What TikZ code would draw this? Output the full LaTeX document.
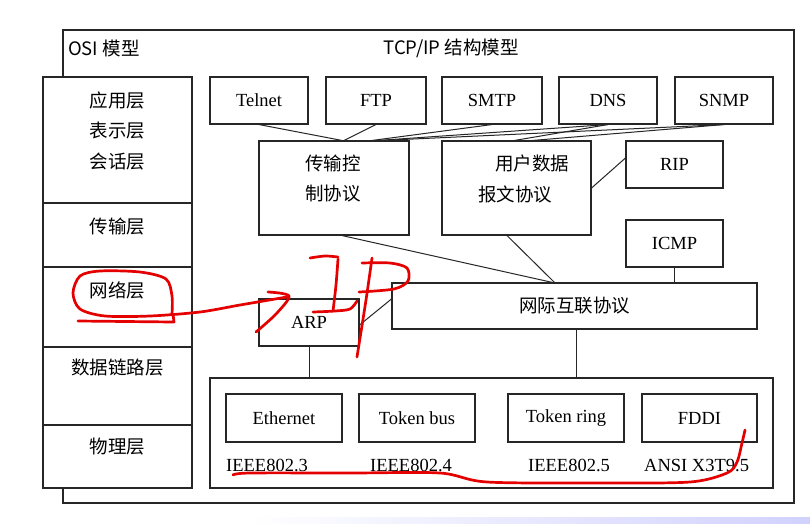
\documentclass[tikz,border=0pt]{standalone}
\usepackage{fontspec}
\setmainfont{Liberation Serif}
\newfontfamily\cjk{Noto Sans CJK SC}
\usetikzlibrary{calc}
\begin{document}
\begin{tikzpicture}[x=1pt,y=-1pt,
  frame/.style={draw=black!85,line width=1.3pt,inner sep=0pt},
  box/.style={draw=black!85,line width=1.1pt,inner sep=0pt,font=\fontsize{18.5pt}{22pt}\selectfont},
  lbl/.style={inner sep=0pt,font=\fontsize{18.5pt}{22pt}\selectfont},
  zh/.style={inner sep=0pt,font=\cjk\fontsize{18.5pt}{22pt}\selectfont},
  link/.style={draw=black!85,line width=1pt},
  redpen/.style={draw=red!90!black,line width=2.7pt,line cap=round,line join=round}]
\useasboundingbox (0,0) rectangle (810,523);
\fill[white] (0,0) rectangle (810,523);
\shade[left color=white,right color=blue!18] (250,517) rectangle (810,523);
% outer frame
\node[frame,minimum width=731pt,minimum height=473pt] (outer) at (428.5,266.5) {};
\node[zh,anchor=west] (ositit) at (68,48) {OSI 模型};
\node[zh] (tcptit) at (451,48) {TCP/IP 结构模型};
% OSI column
\node[frame,fill=white,minimum width=149pt,minimum height=126pt] (osi1) at (117.5,140) {};
\node[frame,fill=white,minimum width=149pt,minimum height=64pt] (osi2) at (117.5,235) {};
\node[frame,fill=white,minimum width=149pt,minimum height=80pt] (osi3) at (117.5,307) {};
\node[frame,fill=white,minimum width=149pt,minimum height=78pt] (osi4) at (117.5,386) {};
\node[frame,fill=white,minimum width=149pt,minimum height=63pt] (osi5) at (117.5,456.5) {};
\node[zh] (l1) at (117.5,100) {应用层};
\node[zh] (l2) at (117.5,131) {表示层};
\node[zh] (l3) at (117.5,162) {会话层};
\node[zh] (l4) at (117.5,227) {传输层};
\node[zh] (l5) at (117.5,290) {网络层};
\node[zh] (l6) at (117.5,368) {数据链路层};
\node[zh] (l7) at (117.5,447) {物理层};
% application protocols
\node[box,minimum width=98pt,minimum height=47pt] (telnet) at (259,100.5) {Telnet};
\node[box,minimum width=100pt,minimum height=47pt] (ftp) at (376,100.5) {FTP};
\node[box,minimum width=100pt,minimum height=47pt] (smtp) at (492,100.5) {SMTP};
\node[box,minimum width=98pt,minimum height=47pt] (dns) at (608,100.5) {DNS};
\node[box,minimum width=98pt,minimum height=47pt] (snmp) at (724,100.5) {SNMP};
% transport
\node[box,minimum width=150pt,minimum height=94pt] (tcp) at (334,188) {};
\node[zh] (tcpa) at (333,163) {传输控};
\node[zh] (tcpb) at (333,194) {制协议};
\node[box,minimum width=149pt,minimum height=94pt] (udp) at (516.5,188) {};
\node[zh] (udpa) at (532,163) {用户数据};
\node[zh] (udpb) at (515,194) {报文协议};
\node[box,minimum width=97pt,minimum height=47pt] (rip) at (674.5,164.5) {RIP};
\node[box,minimum width=97pt,minimum height=47pt] (icmp) at (674.5,243.5) {ICMP};
% network
\node[box,minimum width=365pt,minimum height=46pt] (ip) at (574.5,306) {};
\node[zh] (ipt) at (574.5,306) {网际互联协议};
\node[box,minimum width=100pt,minimum height=47pt] (arp) at (309,322.5) {ARP};
% link layer
\node[box,minimum width=563pt,minimum height=110pt] (net) at (491.5,433) {};
\node[box,minimum width=116pt,minimum height=48pt] (eth) at (284,418) {Ethernet};
\node[box,minimum width=116pt,minimum height=48pt] (tbus) at (417,418) {Token bus};
\node[box,minimum width=116pt,minimum height=48pt] (tring) at (566,418) {Token ring};
\node[box,minimum width=115pt,minimum height=48pt] (fddi) at (699.5,418) {FDDI};
\node[lbl,anchor=west] (s1) at (226,465) {IEEE802.3};
\node[lbl,anchor=west] (s2) at (370,465) {IEEE802.4};
\node[lbl,anchor=west] (s3) at (528,465) {IEEE802.5};
\node[lbl,anchor=west] (s4) at (644,465) {ANSI X3T9.5};
% connectors
\draw[link] (telnet.south) -- ([xshift=8pt]tcp.north);
\draw[link] (ftp.south) -- ([xshift=10pt]tcp.north);
\draw[link] (smtp.south) -- ([xshift=38pt]tcp.north);
\draw[link] (dns.south) -- ([xshift=44pt]tcp.north);
\draw[link] (snmp.south) -- ([xshift=48pt]tcp.north);
\draw[link] (dns.south) -- ([xshift=-2pt]udp.north);
\draw[link] (snmp.south) -- ([xshift=16pt]udp.north);
\draw[link] (udp.east) -- ([yshift=6.5pt]rip.west);
\draw[link] ([xshift=8pt]tcp.south) -- ([xshift=-22pt]ip.north);
\draw[link] ([xshift=-9.5pt]udp.south) -- ([xshift=-20pt]ip.north);
\draw[link] (icmp.south) -- (icmp.south |- ip.north);
\draw[link] ([xshift=1.5pt]ip.south) -- ([xshift=1.5pt]ip.south |- net.north);
\draw[link] (arp.south) -- (arp.south |- net.north);
\draw[link] ([yshift=-2.5pt]arp.east) -- ([yshift=7pt]ip.west);
% red handwriting
\draw[redpen] plot[smooth] coordinates {(172,314) (172,296) (166,279) (140,272) (100,271) (80,276) (73,293) (80,309) (105,316) (150,316) (200,312) (240,305) (287,297)};
\draw[redpen] (78,321) -- (174,322) -- (173,314);
\draw[redpen] plot[smooth] coordinates {(268,292) (289,296) (276,314) (256,332)};
\draw[redpen] plot[smooth] coordinates {(310,258) (325,256) (338,257)};
\draw[redpen] plot[smooth] coordinates {(338,259) (336,285) (333,311)};
\draw[redpen] plot[smooth] coordinates {(313,312) (335,311) (350,309) (357,301)};
\draw[redpen] plot[smooth] coordinates {(372,258) (366,300) (357,357)};
\draw[redpen] plot[smooth] coordinates {(362,263) (390,263) (407,268) (408,281) (394,289) (359,292)};
\draw[redpen] plot[smooth] coordinates {(233,475) (250,473) (350,473) (440,473) (487,482) (600,483) (690,482) (727,473) (737,462) (742,443) (745,430)};
\end{tikzpicture}
\end{document}
